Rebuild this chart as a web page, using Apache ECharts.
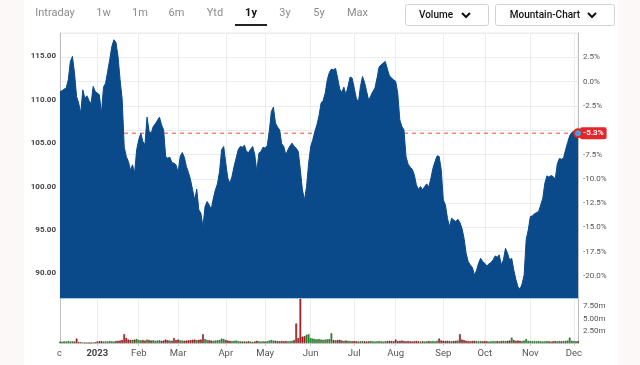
<!DOCTYPE html>
<html><head><meta charset="utf-8">
<script src="https://cdn.jsdelivr.net/npm/echarts@6/dist/echarts.min.js"></script>
<style>
html,body{margin:0;padding:0;background:#fcf8f8;}
#panel{position:absolute;left:24px;top:0;width:594px;height:365px;background:#fff;}
#c{position:absolute;left:0;top:0;width:640px;height:365px;}
</style></head><body><div id="panel"></div><div id="c"></div>
<script>
// ---- data ----
const startDate = '2022-12-06';
const marketHolidays = ['2022-12-26','2023-01-02','2023-01-16','2023-02-20','2023-04-07','2023-05-29','2023-06-19','2023-07-04','2023-09-04','2023-11-23'];
const monthNames = ['Jan','Feb','Mar','Apr','May','Jun','Jul','Aug','Sep','Oct','Nov','Dec'];
const prices = [
110.96,111.04,111.23,111.35,112.31,114.42,115.00,113.08,110.38,109.62,
108.46,111.15,110.19,110.46,109.92,109.54,111.54,110.96,110.77,110.58,
108.46,111.46,111.92,113.27,114.62,116.15,116.92,116.62,115.00,112.31,
110.08,104.54,103.46,102.88,101.92,102.50,101.54,104.23,105.38,106.15,
105.19,104.81,108.00,106.35,106.15,106.92,107.23,107.62,108.00,107.12,
106.54,103.46,103.27,103.38,102.77,102.69,102.50,101.62,103.46,103.92,
103.38,102.31,101.62,100.77,99.62,98.46,99.69,97.31,96.92,95.38,
97.69,98.27,97.88,97.38,98.65,99.62,100.31,101.73,104.23,104.62,
102.69,100.96,100.38,101.15,102.31,103.27,104.23,104.62,104.54,104.77,
104.04,103.92,104.31,104.62,103.65,101.73,103.85,104.04,104.54,104.42,
104.69,106.35,108.65,109.15,107.31,106.85,106.54,104.92,104.62,103.65,
104.23,104.69,105.00,104.62,104.42,104.04,101.92,99.62,98.46,100.00,
102.69,104.62,105.38,106.35,107.12,108.15,109.62,109.92,110.77,112.31,
113.15,113.54,113.46,113.62,112.50,111.23,110.85,111.46,110.58,111.54,
112.62,112.50,111.35,110.19,109.69,111.54,112.69,112.00,110.96,109.92,
110.46,110.96,111.35,112.50,113.77,114.04,114.23,114.42,113.54,112.77,
112.50,112.31,112.12,110.77,107.69,106.92,106.54,103.46,102.58,102.23,
102.00,101.35,100.19,99.69,100.00,99.62,100.00,100.31,99.92,100.96,
102.12,102.88,103.54,103.46,101.92,98.46,97.88,96.35,95.38,96.35,
96.15,95.96,96.23,95.85,95.19,94.04,92.31,91.35,90.96,90.69,
89.81,90.31,91.15,91.73,91.35,91.15,90.85,91.08,91.23,91.54,
92.00,91.85,92.12,90.96,91.54,92.88,92.31,91.54,91.73,90.38,
89.31,88.46,88.15,88.77,89.81,93.90,95.00,96.54,96.62,96.85,
97.00,97.12,97.88,98.65,100.38,101.23,101.08,101.27,101.15,100.85,
102.58,103.23,103.15,103.27,104.23,105.08,105.85,106.23,106.38,106.46,
106.15];
const volumes = [
0.30,0.25,0.35,0.30,0.40,0.30,0.35,0.30,0.90,0.20,
0.15,0.10,0.10,0.05,0.05,0.05,0.10,0.15,0.30,0.35,
0.40,0.30,0.35,0.30,0.40,0.35,0.30,0.40,0.45,0.50,
0.60,1.80,1.00,0.70,0.60,0.65,0.70,0.80,0.60,0.55,
0.60,0.50,0.70,0.60,0.50,0.55,0.45,0.50,0.55,0.45,
0.50,0.70,0.55,0.50,0.45,1.00,0.60,0.70,0.55,0.50,
0.45,0.50,0.55,0.60,0.65,0.70,0.60,0.65,0.70,1.80,
0.80,0.60,0.55,0.50,0.45,0.50,0.55,0.60,0.90,0.80,
0.60,0.50,0.45,0.40,0.45,0.50,0.40,0.35,0.30,0.35,
0.30,0.35,0.30,0.25,0.30,0.45,0.35,0.30,0.35,0.30,
0.35,0.50,0.60,0.50,0.45,0.40,0.35,0.40,0.35,0.40,
0.35,0.40,0.45,0.60,4.00,1.00,9.50,1.30,1.40,1.70,
1.80,1.00,0.90,0.80,0.75,0.80,0.70,0.65,0.70,0.75,
0.80,2.00,0.60,0.55,0.60,0.65,0.50,0.45,0.50,0.45,
0.40,0.35,0.40,0.35,0.30,0.35,0.40,0.35,0.30,0.35,
0.40,0.35,0.30,0.35,0.40,0.35,0.30,0.35,0.40,0.45,
0.40,0.35,0.70,0.40,0.45,0.50,0.40,0.35,0.40,0.35,
0.30,0.35,0.40,0.35,0.30,0.35,0.30,0.35,0.40,0.35,
0.40,0.35,0.45,0.90,0.50,0.45,0.40,0.45,0.40,0.35,
0.40,0.45,0.50,1.80,0.70,0.60,0.45,0.40,0.35,0.40,
0.45,0.40,0.35,0.40,0.35,0.40,0.35,0.30,0.35,0.40,
0.35,0.40,0.35,0.40,0.45,0.40,0.45,0.50,1.10,0.60,
0.45,0.50,0.45,0.40,0.50,0.80,0.45,0.40,0.35,0.40,
0.35,0.40,0.35,0.30,0.35,0.40,0.35,0.30,0.35,0.40,
0.35,0.40,0.35,0.40,0.45,0.50,1.10,0.45,0.40,0.35,
0.40];
const refPrice = 112.1;           // price at 0 %
const priceMin = 87.15, priceMax = 117.70;
const priceTickStep = 5;
const pctTickStep = 2.5;
const volumeMax = 9;
const volumeTickStep = 2.5;
const rangeButtons = ['Intraday','1w','1m','6m','Ytd','1y','3y','5y','Max'];
const rangeCenters = [55, 103.5, 140, 176.5, 215, 251, 285, 319, 357.5];
const activeRange = '1y';

// ---- build ----
function tradingDays(start, count, holidays) {
  const out = []; const d = new Date(start + 'T00:00:00Z');
  while (out.length < count) {
    const wd = d.getUTCDay(); const s = d.toISOString().slice(0, 10);
    if (wd !== 0 && wd !== 6 && holidays.indexOf(s) < 0) out.push(s);
    d.setUTCDate(d.getUTCDate() + 1);
  }
  return out;
}
const dates = tradingDays(startDate, prices.length, marketHolidays);
const isMonthStart = (idx) => idx > 0 && dates[idx].slice(5, 7) !== dates[idx - 1].slice(5, 7);
const monthLabel = (v) => { const m = +v.slice(5, 7); return m === 1 ? '{y|' + v.slice(0, 4) + '}' : monthNames[m - 1]; };
const lastIdx = prices.length - 1;
const lastPrice = prices[lastIdx];
const lastPct = (lastPrice / refPrice - 1) * 100;
const pctMin = (priceMin / refPrice - 1) * 100, pctMax = (priceMax / refPrice - 1) * 100;
const volData = volumes.map((v, i) => {
  const down = i > 0 && prices[i] < prices[i - 1];
  return { value: v, itemStyle: { color: down ? '#c8252b' : '#2f9a36', borderColor: down ? '#5a1010' : '#145a18', borderWidth: 0.5 } };
});
// reference line at the last price, spanning the first to the last category
const lastLine = [[dates[0], lastPrice], [dates[lastIdx], lastPrice]];
const blue = '#0a498a';
const red = '#ee4a44';
const FONT = 'Roboto, "Liberation Sans", sans-serif';

const graphics = [];
rangeButtons.forEach((t, k) => {
  const active = t === activeRange;
  graphics.push({ type: 'text', x: rangeCenters[k], y: 13, style: { text: t, fontFamily: FONT, fontSize: 11,
    fontWeight: active ? 'bold' : 'normal', fill: active ? '#111' : '#8c8c8c', align: 'center', verticalAlign: 'middle' } });
});
graphics.push({ type: 'rect', shape: { x: 235, y: 24, width: 32, height: 2 }, style: { fill: '#222' } });
[[405, 83, 'Volume', 436, 466], [495, 119, 'Mountain-Chart', 545, 592]].forEach(b => {
  graphics.push({ type: 'rect', shape: { x: b[0] + 0.5, y: 4.5, width: b[1], height: 21, r: 2 }, style: { fill: '#fff', stroke: '#cfd3d6', lineWidth: 1 } });
  graphics.push({ type: 'text', x: b[3], y: 15, style: { text: b[2], fontFamily: FONT, fontSize: 10, fontWeight: 500, fill: '#111', align: 'center', verticalAlign: 'middle' } });
  graphics.push({ type: 'polyline', shape: { points: [[b[4] - 4, 13], [b[4], 17], [b[4] + 4, 13]] }, style: { stroke: '#111', lineWidth: 2, fill: null } });
});
graphics.push({ type: 'text', x: 57, y: 354, style: { text: 'c', fontFamily: FONT, fontSize: 9, fill: '#555', verticalAlign: 'middle' } });

const chart = echarts.init(document.getElementById('c'), null, { renderer: 'canvas' });
chart.setOption({
  animation: false,
  backgroundColor: 'transparent',
  textStyle: { fontFamily: FONT },
  graphic: graphics,
  grid: [
    { left: 60, right: 62, top: 33, bottom: 67, show: true, borderColor: '#ececec', borderWidth: 1, backgroundColor: 'transparent' },
    { left: 60, right: 62, top: 299, bottom: 22 }
  ],
  xAxis: [
    { type: 'category', gridIndex: 0, data: dates, boundaryGap: false,
      axisLine: { show: true, onZero: false, lineStyle: { color: '#a9c8e8', width: 1 } }, axisTick: { show: false }, axisLabel: { show: false },
      splitLine: { show: true, interval: isMonthStart, lineStyle: { color: '#ececec', width: 1 } } },
    { type: 'category', gridIndex: 1, data: dates, boundaryGap: false,
      axisLine: { show: true, onZero: false, lineStyle: { color: '#cfcfcf', width: 1 } },
      axisTick: { show: true, interval: isMonthStart, length: 3, lineStyle: { color: '#cfcfcf' } },
      axisLabel: { show: true, interval: isMonthStart, formatter: monthLabel, fontSize: 9.5, color: '#555', margin: 6, fontFamily: FONT,
        rich: { y: { fontSize: 9.5, fontWeight: 'bold', color: '#444', fontFamily: FONT } } },
      splitLine: { show: true, interval: isMonthStart, lineStyle: { color: '#ececec', width: 1 } } }
  ],
  yAxis: [
    { type: 'value', gridIndex: 0, position: 'left', min: priceMin, max: priceMax,
      minInterval: priceTickStep, maxInterval: priceTickStep,
      axisLine: { show: true, lineStyle: { color: '#bdbdbd' } }, axisTick: { show: false },
      axisLabel: { showMinLabel: false, showMaxLabel: false, formatter: v => v.toFixed(2), fontSize: 8, fontWeight: 'bold', color: '#444', margin: 4 },
      splitLine: { show: false } },
    { type: 'value', gridIndex: 0, position: 'right', min: pctMin, max: pctMax,
      minInterval: pctTickStep, maxInterval: pctTickStep,
      axisLine: { show: true, lineStyle: { color: '#bdbdbd' } }, axisTick: { show: false },
      axisLabel: { showMinLabel: false, showMaxLabel: false,
        formatter: v => (Math.abs(v + 5) < 1e-9 ? '' : v.toFixed(1) + '%'), fontSize: 8, color: '#555', margin: 5 },
      splitLine: { show: true, lineStyle: { color: '#ececec', width: 1 } } },
    { type: 'value', gridIndex: 1, position: 'right', min: 0, max: volumeMax, interval: volumeTickStep,
      axisLine: { show: true, lineStyle: { color: '#bdbdbd' } }, axisTick: { show: false },
      axisLabel: { showMinLabel: false, showMaxLabel: false, formatter: v => v.toFixed(2) + 'm', fontSize: 8, color: '#555', margin: 5 },
      splitLine: { show: false } },
    { type: 'value', gridIndex: 1, position: 'left', min: 0, max: volumeMax,
      axisLine: { show: true, lineStyle: { color: '#bdbdbd' } }, axisTick: { show: false }, axisLabel: { show: false }, splitLine: { show: false } }
  ],
  series: [
    { type: 'line', name: 'last', xAxisIndex: 0, yAxisIndex: 0, data: lastLine, z: 1, silent: true,
      showSymbol: false, symbol: 'none', color: red,
      lineStyle: { color: red, type: [4, 4], width: 1 },
      endLabel: { show: true, formatter: lastPct.toFixed(1) + '%', color: '#fff', fontSize: 8, fontWeight: 'bold',
                  backgroundColor: '#e3262b', padding: [2, 3, 2, 3], borderRadius: 2, distance: 2 } },
    { type: 'line', name: 'price', xAxisIndex: 0, yAxisIndex: 0, data: prices, z: 3, showSymbol: false, symbol: 'none', color: blue,
      lineStyle: { color: blue, width: 1 }, areaStyle: { color: blue, opacity: 1, origin: 'start' },
      markPoint: { silent: true, symbol: 'circle', symbolSize: 8, z: 6,
        itemStyle: { color: '#4f9bd9', borderColor: '#e0251b', borderWidth: 2 }, label: { show: false },
        data: [{ coord: [lastIdx, lastPrice] }] } },
    { type: 'bar', xAxisIndex: 1, yAxisIndex: 2, data: volData, barWidth: 1.7, clip: true }
  ]
});
</script></body></html>
